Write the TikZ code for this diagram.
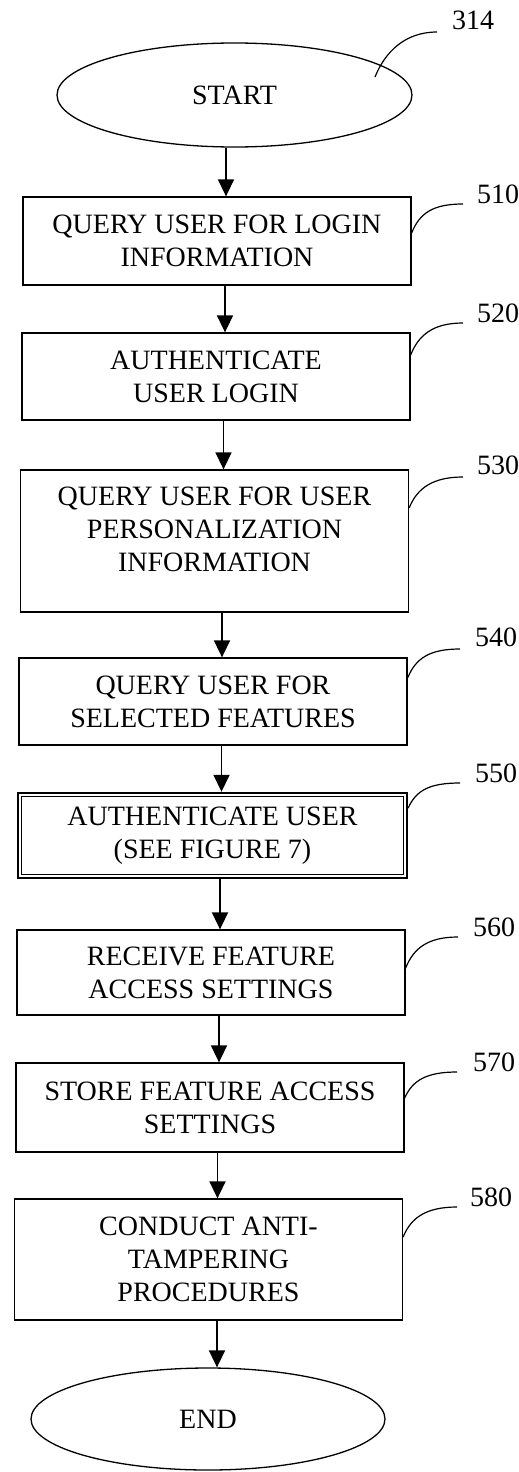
\documentclass[tikz,border=0pt]{standalone}
\usepackage{fontspec}
\setmainfont{Liberation Serif}
\usetikzlibrary{shapes.geometric,arrows.meta}
\begin{document}
\begin{tikzpicture}[x=1pt,y=-1pt,
  txt/.style={font=\fontsize{28}{33}\selectfont, align=center, inner sep=0pt},
  box/.style={draw, line width=1.3pt, minimum width=388pt, inner sep=0pt, txt},
  term/.style={draw, ellipse, line width=1.3pt, inner sep=0pt, txt},
  arr/.style={line width=1.6pt, -{Triangle[width=16pt,length=17pt]}},
  lead/.style={line width=1.2pt},
  num/.style={font=\fontsize{28}{33}\selectfont, anchor=west, inner sep=0pt}]
\useasboundingbox (0,0) rectangle (519,1472);

% terminals and boxes
\node[term, minimum width=355pt, minimum height=104pt] (start) at (234.5,95) {START};
\node[box, minimum height=88pt] (b510) at (217,241) {QUERY USER FOR LOGIN\\INFORMATION};
\node[box, minimum height=87pt] (b520) at (216,376.5) {AUTHENTICATE\\USER LOGIN};
\node[box, minimum height=142pt] (b530) at (214.5,541) {};
\node[txt] (t530) at (214.5,529) {QUERY USER FOR USER\\PERSONALIZATION\\INFORMATION};
\node[box, minimum height=87pt] (b540) at (213,701.5) {QUERY USER FOR\\SELECTED FEATURES};
\node[box, minimum height=85pt, minimum width=389pt, line width=2.4pt] (b550) at (212.5,835.5) {AUTHENTICATE USER\\(SEE FIGURE 7)};
\draw[line width=1.3pt] ([shift={(5pt,-5pt)}]b550.north west) rectangle ([shift={(-5pt,5pt)}]b550.south east);
\node[box, minimum height=85pt] (b560) at (211,972.5) {RECEIVE FEATURE\\ACCESS SETTINGS};
\node[box, minimum height=89pt] (b570) at (210,1107.5) {STORE FEATURE ACCESS\\SETTINGS};
\node[box, minimum height=121pt] (b580) at (208.5,1259.5) {CONDUCT ANTI-\\TAMPERING\\PROCEDURES};
\node[term, minimum width=354pt, minimum height=102pt] (endn) at (208,1419) {END};

% arrow columns
\coordinate (c1) at ([xshift=9pt]b510.north);
\coordinate (c2) at ([xshift=9pt]b520.north);
\coordinate (c3) at ([xshift=9pt]b530.north);
\coordinate (c4) at ([xshift=9pt]b540.north);
\coordinate (c5) at ([xshift=9pt]b550.north);
\coordinate (c6) at ([xshift=9pt]b560.north);
\coordinate (c7) at ([xshift=9pt]b570.north);
\coordinate (c8) at ([xshift=9pt]b580.north);
\coordinate (c9) at ([xshift=9pt]endn.north);

\draw[arr] (c1 |- start.south) -- (c1);
\draw[arr] (c2 |- b510.south) -- (c2);
\draw[arr] (c3 |- b520.south) -- (c3);
\draw[arr] (c4 |- b530.south) -- (c4);
\draw[arr] (c5 |- b540.south) -- (c5);
\draw[arr] (c6 |- b550.south) -- (c6);
\draw[arr] (c7 |- b560.south) -- (c7);
\draw[arr] (c8 |- b570.south) -- (c8);
\draw[arr] (c9 |- b580.south) -- (c9);

% reference numerals and leaders
\coordinate (s314) at (375,77);
\coordinate (e314) at (437,32);
\coordinate (e510) at (463,204);
\coordinate (e520) at (463,323);
\coordinate (e530) at (463,477);
\coordinate (e540) at (460,649);
\coordinate (e550) at (460,783);
\coordinate (e560) at (458,937);
\coordinate (e570) at (457,1072);
\coordinate (e580) at (457,1207);

\draw[lead] (s314) .. controls +(10,-25) and +(-32,0) .. (e314);
\draw[lead] ([yshift=8pt]b510.east) .. controls +(8,-20) and +(-30,0) .. (e510);
\draw[lead] ([yshift=21.5pt]b520.east) .. controls +(8,-20) and +(-30,0) .. (e520);
\draw[lead] ([yshift=33pt]b530.east) .. controls +(8,-20) and +(-30,0) .. (e530);
\draw[lead] ([yshift=23.5pt]b540.east) .. controls +(8,-20) and +(-30,0) .. (e540);
\draw[lead] ([yshift=27.5pt]b550.east) .. controls +(8,-18) and +(-30,0) .. (e550);
\draw[lead] ([yshift=4.5pt]b560.east) .. controls +(8,-20) and +(-30,0) .. (e560);
\draw[lead] ([yshift=9.5pt]b570.east) .. controls +(8,-18) and +(-30,0) .. (e570);
\draw[lead] ([yshift=22.5pt]b580.east) .. controls +(8,-20) and +(-30,0) .. (e580);

\node[num] (n314) at (452,20) {314};
\node[num] (n510) at (477,194) {510};
\node[num] (n520) at (477,313) {520};
\node[num] (n530) at (477,465) {530};
\node[num] (n540) at (475,637) {540};
\node[num] (n550) at (475,773) {550};
\node[num] (n560) at (473,927) {560};
\node[num] (n570) at (473,1062) {570};
\node[num] (n580) at (470,1197) {580};
\end{tikzpicture}
\end{document}
